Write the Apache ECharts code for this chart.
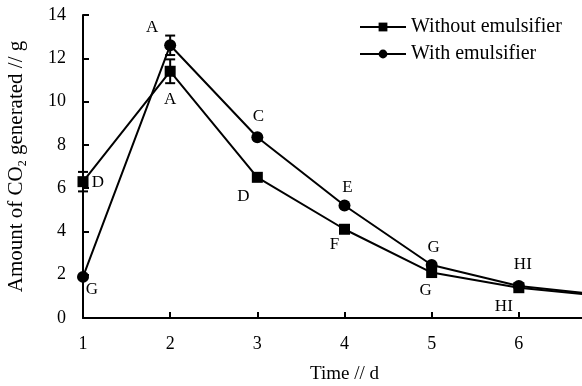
<!DOCTYPE html>
<html>
<head>
<meta charset="utf-8">
<script src="https://cdn.jsdelivr.net/npm/echarts@6/dist/echarts.min.js"></script>
<style>
  html, body { margin: 0; padding: 0; background: #fff; }
  #chart { width: 582px; height: 386px; }
</style>
</head>
<body>
<div id="chart"></div>
<script>
// days on the x axis
var days = [1, 2, 3, 4, 5, 6, 7];
// CO2 generated (g)
var withoutEmulsifier = [6.3, 11.4, 6.5, 4.1, 2.1, 1.4, 1.0];
var withEmulsifier = [1.9, 12.6, 8.35, 5.2, 2.45, 1.48, 1.05];
// error bar half widths
var withoutErr = [0.45, 0.55, 0, 0, 0, 0, 0];
var withErr = [0, 0.45, 0, 0, 0, 0, 0];
// significance letters
var withoutLetters = ['D', 'A', 'D', 'F', 'G', 'HI', ''];
var withLetters = ['G', 'A', 'C', 'E', 'G', 'HI', ''];
var yTicks = [0, 2, 4, 6, 8, 10, 12, 14];

var FONT = "'Liberation Serif', 'DejaVu Serif', serif";

// label offsets relative to marker center (style only)
var withoutOffsets = [[15, 1], [0, 28], [-14, 19], [-10, 15], [-6, 18], [-15, 19], [0, 0]];
var withOffsets = [[9, 13], [-18, -18], [1, -21], [3, -18], [2, -17], [4, -21], [0, 0]];

function buildPoints(vals, letters, offsets) {
    return days.map(function (d, i) {
        return {
            value: [d, vals[i]],
            label: {
                show: letters[i] !== '',
                formatter: letters[i],
                position: 'inside',
                offset: offsets[i]
            }
        };
    });
}

function buildErr(vals, errs) {
    var out = [];
    days.forEach(function (d, i) {
        if (errs[i] > 0) out.push([d, vals[i] - errs[i], vals[i] + errs[i]]);
    });
    return out;
}

function errRender(params, api) {
    var x = api.value(0);
    var lo = api.coord([x, api.value(1)]);
    var hi = api.coord([x, api.value(2)]);
    var w = 5;
    var st = { stroke: '#000', lineWidth: 2 };
    return {
        type: 'group',
        children: [
            { type: 'line', shape: { x1: lo[0], y1: lo[1], x2: hi[0], y2: hi[1] }, style: st },
            { type: 'line', shape: { x1: lo[0] - w, y1: lo[1], x2: lo[0] + w, y2: lo[1] }, style: st },
            { type: 'line', shape: { x1: hi[0] - w, y1: hi[1], x2: hi[0] + w, y2: hi[1] }, style: st }
        ]
    };
}

var chart = echarts.init(document.getElementById('chart'));

var labelStyle = {
    color: '#000',
    fontFamily: FONT,
    fontSize: 17,
    align: 'center',
    verticalAlign: 'middle'
};

var option = {
    backgroundColor: '#fff',
    animation: false,
    textStyle: { fontFamily: FONT, color: '#000' },
    legend: {
        orient: 'vertical',
        left: 354,
        top: 12,
        itemWidth: 46,
        itemHeight: 11,
        itemGap: 7,
        textStyle: { fontFamily: FONT, fontSize: 20, color: '#000' },
        data: ['Without emulsifier', 'With emulsifier']
    },
    grid: { left: 83, top: 15, right: -24, bottom: 68, outerBoundsMode: 'none', containLabel: false },
    xAxis: {
        type: 'value',
        min: 1,
        max: 7,
        interval: 1,
        name: 'Time // d',
        nameLocation: 'middle',
        nameGap: 47,
        nameTextStyle: { fontFamily: FONT, fontSize: 19, color: '#000' },
        axisLine: { lineStyle: { color: '#000', width: 2 } },
        axisTick: { inside: true, length: 6, lineStyle: { color: '#000', width: 2 } },
        axisLabel: { fontFamily: FONT, fontSize: 18, color: '#000', margin: 17 },
        splitLine: { show: false }
    },
    yAxis: {
        type: 'value',
        min: yTicks[0],
        max: yTicks[yTicks.length - 1],
        interval: 2,
        name: 'Amount of CO{sub|2} generated // g',
        nameLocation: 'middle',
        nameGap: 54,
        nameTextStyle: {
            fontFamily: FONT, fontSize: 21, color: '#000',
            rich: { sub: { fontFamily: FONT, fontSize: 12, color: '#000', padding: [14, 0, 0, 0] } }
        },
        axisLine: { show: true, lineStyle: { color: '#000', width: 2 } },
        axisTick: { show: true, inside: true, length: 6, lineStyle: { color: '#000', width: 2 } },
        axisLabel: { fontFamily: FONT, fontSize: 18, color: '#000', margin: 17 },
        splitLine: { show: false }
    },
    series: [
        {
            name: 'Without emulsifier',
            type: 'line',
            symbol: 'rect',
            symbolSize: 11,
            itemStyle: { color: '#000' },
            lineStyle: { color: '#000', width: 2 },
            label: labelStyle,
            data: buildPoints(withoutEmulsifier, withoutLetters, withoutOffsets),
            z: 3
        },
        {
            name: 'With emulsifier',
            type: 'line',
            symbol: 'circle',
            symbolSize: 12,
            itemStyle: { color: '#000' },
            lineStyle: { color: '#000', width: 2 },
            label: labelStyle,
            data: buildPoints(withEmulsifier, withLetters, withOffsets),
            z: 3
        },
        {
            type: 'custom',
            renderItem: errRender,
            data: buildErr(withoutEmulsifier, withoutErr),
            z: 2
        },
        {
            type: 'custom',
            renderItem: errRender,
            data: buildErr(withEmulsifier, withErr),
            z: 2
        }
    ]
};

chart.setOption(option);
</script>
</body>
</html>
